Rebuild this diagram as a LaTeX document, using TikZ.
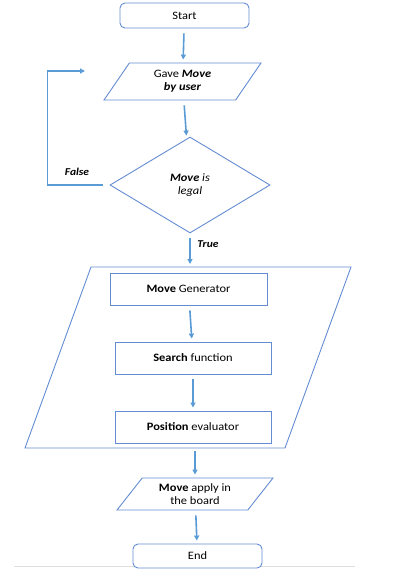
\documentclass[tikz,border=0pt]{standalone}
\usepackage{fontspec}
\setmainfont{Carlito}[FakeStretch=1.1]
\usetikzlibrary{positioning,arrows.meta,shapes.geometric,calc}
\definecolor{lineblue}{RGB}{100,140,210}
\definecolor{arrowblue}{RGB}{91,155,213}
\tikzset{
  flowarrow/.style={-{Triangle[length=5pt,width=5pt]}, line width=1.6pt, arrowblue, shorten <=5pt, shorten >=3pt},
  outline/.style={draw=lineblue, line width=0.9pt},
  termbox/.style={outline, rounded corners=5pt, fill=white, minimum width=129pt, minimum height=25pt, align=center},
  procbox/.style={outline, fill=white, minimum width=156pt, minimum height=32pt, align=center},
  iobox/.style={outline, trapezium, trapezium stretches body, trapezium left angle=49, trapezium right angle=131, inner xsep=0pt, align=center},
  decbox/.style={outline, diamond, aspect=1.67, minimum width=160pt, minimum height=96pt, inner sep=0pt, align=center},
  branchlabel/.style={font=\fontsize{10.5}{12}\selectfont\bfseries\itshape, inner sep=1pt}
}

\begin{document}
\begin{tikzpicture}[x=1pt, y=1pt, every node/.style={font=\fontsize{11.3}{13.4}\selectfont}]
  \useasboundingbox (0,0) rectangle (403,-573);
  \draw[gray!25, line width=0.8pt] (14,-566) -- (355,-566);
  % engine block
  \coordinate (engtl) at (91,-267);
  \coordinate (engtr) at (351,-267);
  \coordinate (engbr) at (285,-448);
  \coordinate (engbl) at (25,-448);
  \draw[outline] (engtl) -- (engtr) -- (engbr) -- (engbl) -- cycle;
  \coordinate (engtop) at (190,-267);
  \coordinate (engbot) at (195,-448);

  \node[termbox] (start) at (184.5,-15.5) {Start};
  \node[iobox, minimum width=157pt, minimum height=37pt] (gave) at (182.5,-81.5) {Gave \textbf{\textit{Move}}\\\textbf{\textit{by user}}};
  \node[decbox] (legal) at (190,-185) {\textbf{\textit{Move}} \textit{is}\\\textit{legal}};
  \node[procbox, minimum width=157pt] (movegen) at (188.5,-289) {\textbf{Move} Generator};
  \node[procbox] (search) at (193,-358) {\textbf{Search} function};
  \node[procbox] (poseval) at (193,-427) {\textbf{Position} evaluator};
  \node[iobox, trapezium left angle=48, trapezium right angle=132, minimum width=156pt, minimum height=32pt] (apply) at (195,-494) {\textbf{Move} apply in\\the board};
  \node[termbox, minimum height=24pt] (end) at (197.5,-556) {End};
  \coordinate (loopend) at (85,-71);
  \node[branchlabel] (false) at (77,-172) {False};
  \node[branchlabel] (true) at (208,-244) {True};

  \draw[flowarrow] (start) -- (gave);
  \draw[flowarrow] (gave) -- (legal);
  \draw[flowarrow] (legal) -- (engtop);
  \draw[flowarrow, shorten <=7pt, shorten >=0pt] (legal.west) -- ++(-62,0) |- (loopend);
  \draw[flowarrow] (movegen) -- (search);
  \draw[flowarrow] (search) -- (poseval);
  \draw[flowarrow, shorten <=3pt] (engbot) -- (apply);
  \draw[flowarrow] (apply) -- (end);
\end{tikzpicture}
\end{document}
